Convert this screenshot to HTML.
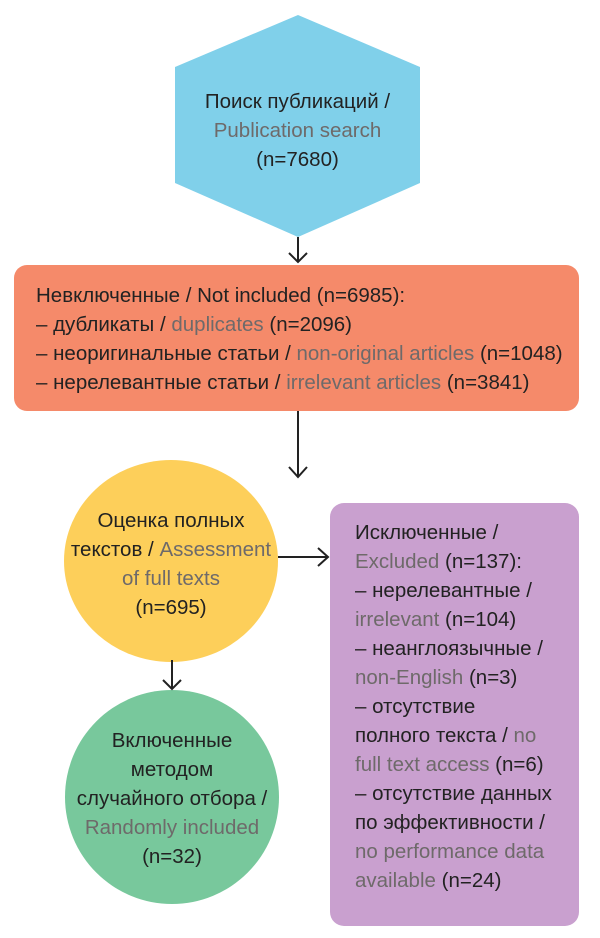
<!DOCTYPE html>
<html><head><meta charset="utf-8"><style>
body{margin:0;width:600px;height:938px;background:#fff;position:relative;overflow:hidden;font-family:"Liberation Sans Narrow","Liberation Sans",sans-serif;color:#222;font-size:20.5px;}
.t{position:absolute;white-space:nowrap;line-height:29px}
.g{color:#6e6a6a}
.c{text-align:center}
</style></head><body>
<svg width="600" height="938" style="position:absolute;left:0;top:0">
<polygon points="298,15 420,67 420,183 298,237 175,183 175,67" fill="#80d0ea"/>
<rect x="14" y="265" width="565" height="146" rx="13" fill="#f58a6a"/>
<ellipse cx="171" cy="561" rx="107" ry="101" fill="#fdcf5a"/>
<circle cx="172" cy="797" r="107" fill="#78c89c"/>
<rect x="330" y="503" width="249" height="423" rx="14" fill="#c9a0cf"/>
<g stroke="#222" stroke-width="2" fill="none">
<line x1="298" y1="237" x2="298" y2="262"/><polyline points="289,253 298,262 307,253"/>
<line x1="298" y1="411" x2="298" y2="477"/><polyline points="289,467 298,477 307,467"/>
<line x1="278" y1="557" x2="328" y2="557"/><polyline points="318,548 328,557 318,566"/>
<line x1="172" y1="660" x2="172" y2="689"/><polyline points="163,680 172,689 181,680"/>
</g>
</svg>
<div class="t c" style="left:175px;width:245px;top:87px">Поиск публикаций /<br><span class="g">Publication search</span><br>(n=7680)</div>
<div class="t" style="left:36px;top:281px">Невключенные / Not included (n=6985):<br>– дубликаты / <span class="g">duplicates</span> (n=2096)<br>– неоригинальные статьи / <span class="g">non-original articles</span> (n=1048)<br>– нерелевантные статьи / <span class="g">irrelevant articles</span> (n=3841)</div>
<div class="t c" style="left:64px;width:214px;top:506px;line-height:29px">Оценка полных<br>текстов / <span class="g">Assessment</span><br><span class="g">of full texts</span><br>(n=695)</div>
<div class="t c" style="left:64px;width:216px;top:726px;line-height:29px">Включенные<br>методом<br>случайного отбора /<br><span class="g">Randomly included</span><br>(n=32)</div>
<div class="t" style="left:355px;top:518px;line-height:29px">Исключенные /<br><span class="g">Excluded</span> (n=137):<br>– нерелевантные /<br><span class="g">irrelevant</span> (n=104)<br>– неанглоязычные /<br><span class="g">non-English</span> (n=3)<br>– отсутствие<br>полного текста / <span class="g">no</span><br><span class="g">full text access</span> (n=6)<br>– отсутствие данных<br>по эффективности /<br><span class="g">no performance data</span><br><span class="g">available</span> (n=24)</div>
</body></html>
